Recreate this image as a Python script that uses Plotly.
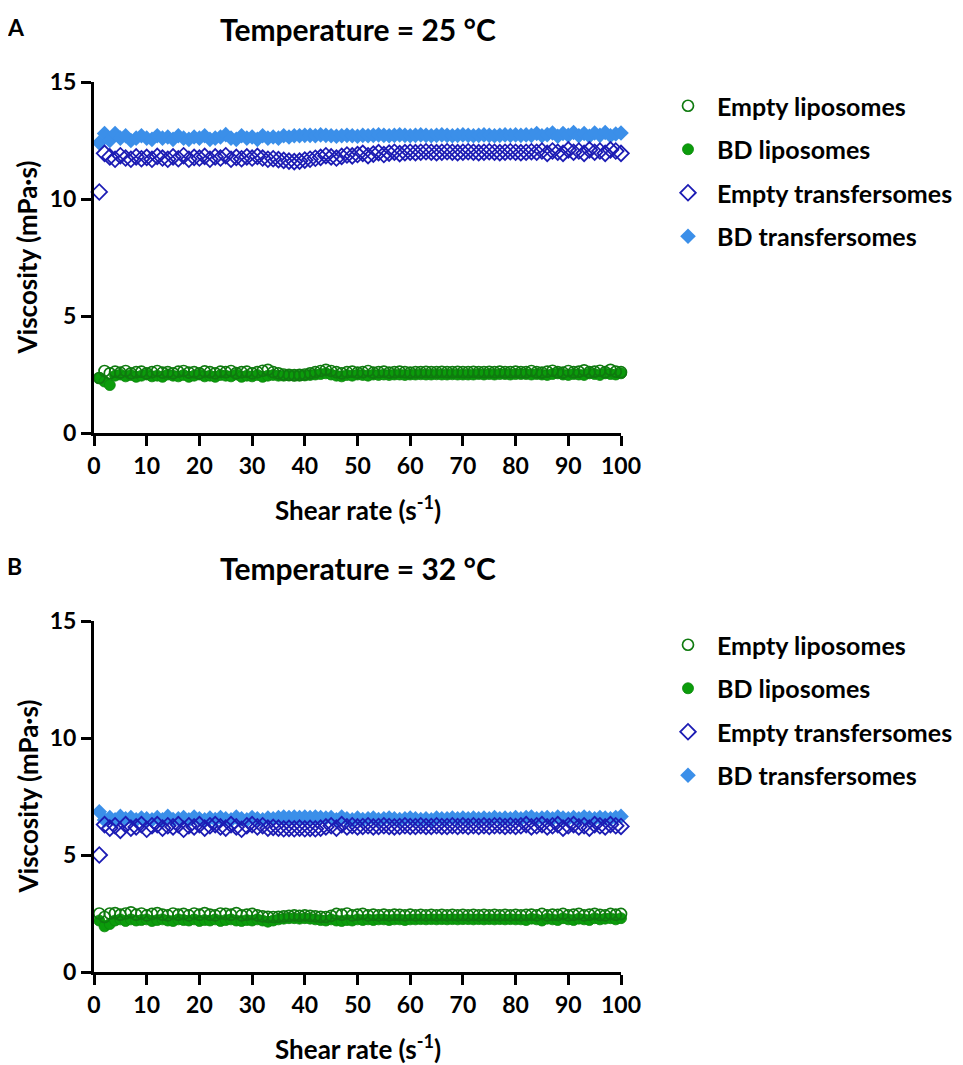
import plotly.graph_objects as go

# ---------------- data ----------------
shear_rate = [1, 2, 3, 4, 5, 6, 7, 8, 9, 10,
              11, 12, 13, 14, 15, 16, 17, 18, 19, 20,
              21, 22, 23, 24, 25, 26, 27, 28, 29, 30,
              31, 32, 33, 34, 35, 36, 37, 38, 39, 40,
              41, 42, 43, 44, 45, 46, 47, 48, 49, 50,
              51, 52, 53, 54, 55, 56, 57, 58, 59, 60,
              61, 62, 63, 64, 65, 66, 67, 68, 69, 70,
              71, 72, 73, 74, 75, 76, 77, 78, 79, 80,
              81, 82, 83, 84, 85, 86, 87, 88, 89, 90,
              91, 92, 93, 94, 95, 96, 97, 98, 99, 100]

x_ticks = [0, 10, 20, 30, 40, 50, 60, 70, 80, 90, 100]
y_ticks = [0, 5, 10, 15]

# Panel A: 25 °C
a_empty_lip = [2.35, 2.65, 2.55, 2.62, 2.58, 2.65, 2.55, 2.60, 2.62, 2.55,
               2.60, 2.65, 2.58, 2.60, 2.55, 2.62, 2.65, 2.58, 2.60, 2.55,
               2.63, 2.60, 2.55, 2.62, 2.60, 2.65, 2.56, 2.60, 2.62, 2.55,
               2.60, 2.66, 2.70, 2.60, 2.55, 2.50, 2.48, 2.47, 2.48, 2.50,
               2.55, 2.60, 2.65, 2.70, 2.65, 2.60, 2.55, 2.60, 2.62, 2.58,
               2.60, 2.65, 2.58, 2.60, 2.62, 2.58, 2.60, 2.62, 2.60, 2.58,
               2.60, 2.60, 2.61, 2.60, 2.60, 2.61, 2.60, 2.60, 2.61, 2.60,
               2.60, 2.61, 2.60, 2.60, 2.61, 2.60, 2.62, 2.60, 2.60, 2.62,
               2.60, 2.60, 2.65, 2.60, 2.58, 2.62, 2.66, 2.60, 2.58, 2.65,
               2.60, 2.62, 2.68, 2.60, 2.62, 2.66, 2.60, 2.70, 2.62, 2.60]
a_bd_lip = [2.35, 2.20, 2.05, 2.45, 2.50, 2.42, 2.48, 2.40, 2.45, 2.50,
            2.42, 2.45, 2.40, 2.50, 2.45, 2.42, 2.48, 2.40, 2.45, 2.50,
            2.42, 2.45, 2.40, 2.48, 2.45, 2.42, 2.50, 2.40, 2.45, 2.42,
            2.48, 2.40, 2.45, 2.48, 2.45, 2.45, 2.46, 2.45, 2.45, 2.46,
            2.48, 2.50, 2.52, 2.55, 2.50, 2.45, 2.42, 2.48, 2.45, 2.50,
            2.48, 2.45, 2.50, 2.48, 2.50, 2.48, 2.50, 2.50, 2.48, 2.50,
            2.50, 2.51, 2.50, 2.50, 2.51, 2.50, 2.50, 2.51, 2.50, 2.50,
            2.50, 2.50, 2.52, 2.50, 2.52, 2.50, 2.52, 2.52, 2.50, 2.52,
            2.52, 2.52, 2.50, 2.52, 2.50, 2.48, 2.52, 2.55, 2.50, 2.48,
            2.52, 2.50, 2.48, 2.55, 2.52, 2.48, 2.55, 2.52, 2.50, 2.55]
a_empty_tr = [10.30, 11.95, 11.80, 11.70, 11.85, 11.75, 11.70, 11.80, 11.72, 11.78,
              11.70, 11.82, 11.75, 11.70, 11.80, 11.72, 11.85, 11.70, 11.78, 11.75,
              11.82, 11.70, 11.80, 11.75, 11.85, 11.70, 11.78, 11.72, 11.80, 11.75,
              11.82, 11.75, 11.70, 11.72, 11.68, 11.65, 11.62, 11.60, 11.62, 11.66,
              11.70, 11.74, 11.78, 11.85, 11.80, 11.75, 11.82, 11.88, 11.84, 11.90,
              11.95, 11.85, 11.92, 11.98, 11.90, 11.96, 12.00, 11.94, 11.98, 12.00,
              11.98, 12.00, 12.02, 12.00, 11.98, 12.00, 12.02, 12.00, 11.98, 12.00,
              12.02, 12.00, 11.98, 12.00, 12.02, 12.00, 11.98, 12.00, 12.02, 12.00,
              11.98, 12.00, 12.02, 12.00, 12.05, 11.95, 12.05, 12.00, 11.95, 12.10,
              12.00, 12.05, 11.95, 12.10, 12.00, 12.05, 11.95, 12.10, 12.05, 11.95]
a_bd_tr = [12.40, 12.80, 12.50, 12.80, 12.60, 12.70, 12.50, 12.60, 12.70, 12.60,
           12.55, 12.70, 12.60, 12.65, 12.55, 12.70, 12.60, 12.55, 12.65, 12.60,
           12.70, 12.55, 12.60, 12.65, 12.75, 12.60, 12.55, 12.70, 12.60, 12.65,
           12.55, 12.70, 12.60, 12.65, 12.60, 12.70, 12.65, 12.70, 12.70, 12.72,
           12.72, 12.70, 12.74, 12.72, 12.70, 12.68, 12.70, 12.72, 12.70, 12.68,
           12.72, 12.70, 12.72, 12.74, 12.72, 12.70, 12.72, 12.74, 12.72, 12.70,
           12.72, 12.74, 12.72, 12.70, 12.72, 12.74, 12.72, 12.70, 12.72, 12.74,
           12.72, 12.70, 12.72, 12.74, 12.72, 12.70, 12.72, 12.74, 12.72, 12.74,
           12.72, 12.74, 12.72, 12.80, 12.70, 12.75, 12.82, 12.68, 12.80, 12.72,
           12.84, 12.70, 12.80, 12.68, 12.82, 12.72, 12.84, 12.70, 12.78, 12.82]

# Panel B: 32 °C
b_empty_lip = [2.50, 2.35, 2.50, 2.52, 2.45, 2.50, 2.55, 2.45, 2.50, 2.42,
               2.48, 2.52, 2.45, 2.42, 2.50, 2.45, 2.48, 2.42, 2.50, 2.45,
               2.52, 2.45, 2.42, 2.50, 2.48, 2.45, 2.52, 2.42, 2.45, 2.48,
               2.42, 2.38, 2.36, 2.35, 2.36, 2.38, 2.40, 2.42, 2.40, 2.42,
               2.40, 2.38, 2.36, 2.35, 2.40, 2.48, 2.45, 2.50, 2.42, 2.45,
               2.48, 2.42, 2.45, 2.42, 2.45, 2.42, 2.45, 2.44, 2.42, 2.45,
               2.42, 2.44, 2.42, 2.44, 2.42, 2.44, 2.42, 2.44, 2.42, 2.44,
               2.42, 2.44, 2.42, 2.44, 2.42, 2.44, 2.42, 2.44, 2.42, 2.44,
               2.42, 2.44, 2.45, 2.42, 2.48, 2.42, 2.45, 2.44, 2.48, 2.42,
               2.45, 2.48, 2.42, 2.45, 2.48, 2.44, 2.42, 2.48, 2.45, 2.48]
b_bd_lip = [2.20, 1.95, 2.05, 2.20, 2.25, 2.18, 2.25, 2.20, 2.22, 2.25,
            2.18, 2.22, 2.25, 2.20, 2.18, 2.25, 2.22, 2.20, 2.25, 2.18,
            2.22, 2.20, 2.25, 2.18, 2.22, 2.25, 2.20, 2.18, 2.22, 2.20,
            2.25, 2.20, 2.15, 2.20, 2.25, 2.28, 2.30, 2.30, 2.28, 2.30,
            2.28, 2.25, 2.22, 2.20, 2.25, 2.20, 2.18, 2.22, 2.20, 2.25,
            2.22, 2.25, 2.22, 2.25, 2.25, 2.22, 2.25, 2.25, 2.22, 2.25,
            2.25, 2.26, 2.25, 2.26, 2.25, 2.26, 2.25, 2.26, 2.25, 2.26,
            2.26, 2.25, 2.26, 2.25, 2.26, 2.25, 2.26, 2.25, 2.26, 2.25,
            2.25, 2.22, 2.28, 2.25, 2.20, 2.28, 2.25, 2.22, 2.30, 2.25,
            2.22, 2.28, 2.25, 2.22, 2.30, 2.25, 2.28, 2.30, 2.25, 2.30]
b_empty_tr = [5.00, 6.30, 6.15, 6.25, 6.05, 6.30, 6.15, 6.20, 6.30, 6.10,
              6.25, 6.30, 6.15, 6.25, 6.20, 6.30, 6.10, 6.25, 6.20, 6.30,
              6.15, 6.25, 6.30, 6.20, 6.15, 6.30, 6.20, 6.10, 6.25, 6.30,
              6.20, 6.25, 6.15, 6.18, 6.15, 6.12, 6.14, 6.12, 6.15, 6.12,
              6.14, 6.12, 6.15, 6.20, 6.25, 6.15, 6.30, 6.20, 6.25, 6.20,
              6.22, 6.25, 6.20, 6.22, 6.25, 6.22, 6.20, 6.22, 6.25, 6.22,
              6.22, 6.25, 6.22, 6.22, 6.25, 6.22, 6.22, 6.25, 6.22, 6.25,
              6.22, 6.25, 6.22, 6.25, 6.22, 6.25, 6.25, 6.22, 6.25, 6.22,
              6.25, 6.30, 6.20, 6.25, 6.30, 6.20, 6.25, 6.30, 6.15, 6.25,
              6.30, 6.20, 6.25, 6.15, 6.30, 6.25, 6.20, 6.30, 6.25, 6.22]
b_bd_tr = [6.85, 6.50, 6.60, 6.50, 6.65, 6.55, 6.60, 6.50, 6.58, 6.55,
           6.50, 6.60, 6.50, 6.65, 6.52, 6.55, 6.60, 6.50, 6.62, 6.55,
           6.50, 6.58, 6.52, 6.60, 6.55, 6.50, 6.62, 6.55, 6.50, 6.60,
           6.55, 6.50, 6.58, 6.55, 6.60, 6.62, 6.60, 6.62, 6.60, 6.62,
           6.60, 6.62, 6.60, 6.58, 6.60, 6.50, 6.62, 6.55, 6.50, 6.58,
           6.52, 6.55, 6.58, 6.52, 6.55, 6.58, 6.55, 6.52, 6.55, 6.58,
           6.55, 6.52, 6.55, 6.50, 6.58, 6.55, 6.55, 6.58, 6.55, 6.58,
           6.55, 6.58, 6.55, 6.58, 6.55, 6.60, 6.55, 6.58, 6.55, 6.60,
           6.55, 6.60, 6.62, 6.55, 6.58, 6.60, 6.55, 6.62, 6.58, 6.55,
           6.60, 6.55, 6.62, 6.58, 6.55, 6.60, 6.58, 6.55, 6.60, 6.65]

series_names = ["Empty liposomes", "BD liposomes", "Empty transfersomes", "BD transfersomes"]
panel_titles = ["Temperature = 25 °C", "Temperature = 32 °C"]
panel_letters = ["A", "B"]

# ---------------- styling ----------------
PAGE_W, PAGE_H = 963, 1065
OFF = 8  # default body margin of the html page
W, H = PAGE_W - OFF, PAGE_H - OFF
FONT = "Lato"
BLACK = "#000000"

styles = {
    "Empty liposomes": dict(symbol="circle-open", size=11, color="#0f7a0f",
                            line=dict(width=1.7, color="#0f7a0f")),
    "BD liposomes": dict(symbol="circle", size=11, color="#0b9c0b",
                         line=dict(width=0.8, color="#0a860a")),
    "Empty transfersomes": dict(symbol="diamond-open", size=12, color="#1c1cb4",
                                line=dict(width=1.8, color="#1c1cb4")),
    "BD transfersomes": dict(symbol="diamond", size=12, color="#3b8fe9",
                             line=dict(width=0)),
}
rank = {n: i + 1 for i, n in enumerate(series_names)}
draw_order = ["BD liposomes", "Empty liposomes", "BD transfersomes", "Empty transfersomes"]

panels = [
    dict(data={"Empty liposomes": a_empty_lip, "BD liposomes": a_bd_lip,
               "Empty transfersomes": a_empty_tr, "BD transfersomes": a_bd_tr},
         xa="x", ya="y", legend="legend", top=82, bottom=433),
    dict(data={"Empty liposomes": b_empty_lip, "BD liposomes": b_bd_lip,
               "Empty transfersomes": b_empty_tr, "BD transfersomes": b_bd_tr},
         xa="x2", ya="y2", legend="legend2", top=621, bottom=972),
]

LEFT, RIGHT = 94, 621

def px_x(p):
    return (p - OFF) / W

def px_y(p):
    return 1 - (p - OFF) / H

fig = go.Figure()
for pi, pnl in enumerate(panels):
    for name in draw_order:
        st = styles[name]
        fig.add_trace(go.Scatter(
            x=shear_rate, y=pnl["data"][name], mode="markers", name=name,
            marker=st, xaxis=pnl["xa"], yaxis=pnl["ya"], legend=pnl["legend"],
            legendgroup=f"{pnl['legend']}_{name}", legendrank=rank[name],
            cliponaxis=False, hoverinfo="x+y+name",
        ))

axis_common = dict(
    showline=True, linewidth=3, linecolor=BLACK, ticks="outside", ticklen=10,
    tickwidth=3, tickcolor=BLACK, showgrid=False, zeroline=False,
    tickfont=dict(family=FONT, size=23, color=BLACK, weight="bold"),
    fixedrange=True, automargin=False,
)

layout = dict(
    width=W, height=H, paper_bgcolor="white", plot_bgcolor="white",
    margin=dict(l=0, r=0, t=0, b=0, autoexpand=False), showlegend=True,
    font=dict(family=FONT, color=BLACK),
)
annotations = []
for pi, pnl in enumerate(panels):
    sfx = "" if pi == 0 else "2"
    layout["xaxis" + sfx] = dict(
        axis_common, domain=[px_x(LEFT), px_x(RIGHT)], range=[0, 100],
        tickvals=x_ticks, anchor="y" + sfx,
    )
    layout["yaxis" + sfx] = dict(
        axis_common, domain=[px_y(pnl["bottom"]), px_y(pnl["top"])], range=[0, 15],
        tickvals=y_ticks, anchor="x" + sfx,
    )
    layout[pnl["legend"]] = dict(
        x=px_x(659), y=px_y(pnl["top"] + 1), xanchor="left", yanchor="top",
        font=dict(family=FONT, size=25, color=BLACK, weight="bold"),
        itemwidth=48, tracegroupgap=8, traceorder="grouped",
        bgcolor="rgba(0,0,0,0)",
    )
    mid_x = px_x((LEFT + RIGHT) / 2)
    annotations += [
        dict(text=panel_titles[pi], x=mid_x, y=px_y(pnl["top"] - 53), xref="paper", yref="paper",
             xanchor="center", yanchor="middle", showarrow=False,
             font=dict(family=FONT, size=30, color=BLACK, weight="bold")),
        dict(text=panel_letters[pi], x=px_x(5), y=px_y(pnl["top"] - 55), xref="paper", yref="paper",
             xanchor="left", yanchor="middle", showarrow=False,
             font=dict(family=FONT, size=23, color=BLACK, weight="bold")),
        dict(text="Shear rate (s<sup>-1</sup>)", x=mid_x, y=px_y(pnl["bottom"] + 75),
             xref="paper", yref="paper", xanchor="center", yanchor="middle", showarrow=False,
             font=dict(family=FONT, size=26, color=BLACK, weight="bold")),
        dict(text="Viscosity (mPa·s)", x=px_x(27), y=px_y((pnl["top"] + pnl["bottom"]) / 2),
             xref="paper", yref="paper", xanchor="center", yanchor="middle", showarrow=False,
             textangle=-90, font=dict(family=FONT, size=26, color=BLACK, weight="bold")),
    ]
layout["annotations"] = annotations
fig.update_layout(**layout)

fig.write_html("out.html")
